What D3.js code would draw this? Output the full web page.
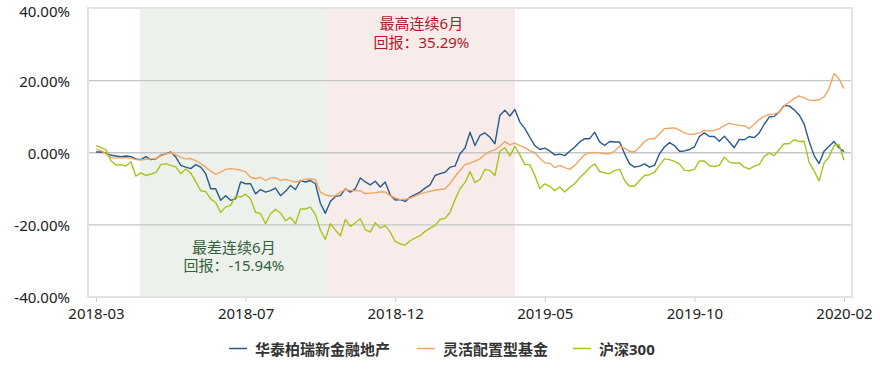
<!DOCTYPE html>
<html>
<head>
<meta charset="utf-8">
<script src="https://cdn.jsdelivr.net/npm/d3@7"></script>
<style>
  html, body { margin: 0; padding: 0; background: #ffffff; }
  svg { display: block; font-family: "Noto Sans", "Noto Sans CJK SC", sans-serif; }
</style>
</head>
<body>
<div id="chart"></div>
<script>
// ---------------- data ----------------
const tickLabels = ["2018-03", "2018-07", "2018-12", "2019-05", "2019-10", "2020-02"];
const tickPositions = [0, 30, 60, 90, 120, 150];
const yTicks = [-40, -20, 0, 20, 40];
const seriesNames = ["华泰柏瑞新金融地产", "灵活配置型基金", "沪深300"];

// cumulative return (%) per sampled trading day
const fundReturns = [
  0.2, 0.2, -0.1, -0.7, -0.9, -1.1, -0.9, -1.1, -1.7, -1.9, -1.1, -1.9, -1.7, -0.7, -0.3, 0.2,
  -1.2, -3.5, -4.0, -4.4, -3.3, -4.0, -5.8, -10.0, -10.0, -13.2, -11.9, -13.2, -12.8, -8.1, -8.6,
  -8.6, -11.4, -10.2, -10.9, -10.5, -9.8, -11.9, -10.7, -9.1, -10.2, -7.7, -8.1, -7.7, -8.6, -14.0,
  -16.8, -13.5, -12.1, -11.9, -10.0, -10.9, -10.0, -7.0, -8.1, -8.9, -7.9, -9.5, -8.1, -11.7, -13.1,
  -13.0, -13.5, -12.3, -11.6, -10.9, -9.8, -8.9, -6.3, -5.8, -5.4, -4.0, -3.7, -0.3, 1.3, 5.7,
  2.0, 4.8, 5.5, 4.3, 2.5, 10.4, 11.8, 10.2, 12.0, 8.5, 6.7, 4.3, 2.0, 0.9, 1.3,
  0.5, -0.6, -0.4, -0.8, 0.4, 1.6, 3.0, 3.9, 3.9, 5.7, 3.0, 2.0, 3.1, 3.0, 3.0,
  -0.3, -3.1, -4.0, -3.7, -3.1, -4.0, -3.5, -0.3, 1.6, 2.8, 2.0, 0.4, 0.5, 0.9, 1.6,
  4.5, 5.5, 4.5, 4.5, 3.2, 4.6, 3.0, 1.4, 3.7, 3.6, 4.5, 4.2, 5.5, 7.9, 9.9,
  10.1, 11.3, 13.1, 13.0, 11.9, 10.5, 8.0, 3.2, -0.8, -3.0, 0.4, 1.8, 3.1, 1.4, 0.3
];
const mixedFundReturns = [
  1.0, 0.6, -0.3, -1.4, -1.5, -1.4, -1.4, -1.5, -1.9, -2.0, -1.8, -1.7, -1.6, -0.9, -0.3, 0.0,
  -0.6, -1.2, -1.7, -1.6, -2.2, -3.0, -4.0, -5.1, -6.0, -5.4, -4.6, -4.4, -4.6, -4.8, -5.3,
  -6.8, -7.2, -6.8, -7.7, -7.0, -6.9, -7.7, -7.4, -7.8, -8.1, -7.8, -7.3, -7.2, -7.5, -10.9,
  -11.7, -12.0, -11.9, -10.9, -10.2, -10.5, -10.5, -10.6, -11.3, -11.2, -11.1, -10.9, -10.9, -11.9, -12.5,
  -13.0, -12.9, -12.6, -12.0, -11.4, -11.0, -10.7, -10.4, -10.2, -10.0, -8.5, -6.6, -4.9, -3.3, -2.9,
  -2.3, -1.7, -0.5, 0.4, 0.8, 1.8, 3.1, 2.2, 2.7, 2.0, 1.4, 0.6, 0.0, -1.5, -2.8,
  -2.9, -4.1, -3.5, -4.1, -4.6, -3.5, -2.0, -0.5, 0.0, 0.1, -0.1, -0.3, -0.3, 0.4, 1.8,
  1.3, 0.4, 0.2, 1.6, 3.1, 3.9, 3.9, 5.3, 6.7, 6.8, 6.9, 6.3, 5.5, 5.1, 5.2,
  5.5, 6.2, 6.0, 6.2, 6.7, 7.5, 8.2, 7.8, 7.6, 7.5, 6.7, 7.9, 9.2, 10.1, 10.6,
  10.7, 11.3, 13.0, 14.0, 15.0, 15.8, 15.2, 14.6, 14.5, 14.7, 15.5, 17.8, 22.0, 20.5, 17.8
];
const csi300Returns = [
  2.0, 1.5, 0.8, -2.2, -3.4, -3.3, -3.7, -2.5, -6.5, -5.6, -6.3, -5.9, -5.5, -3.3, -3.0, -3.5,
  -3.9, -5.8, -4.5, -5.6, -8.0, -10.5, -10.8, -12.8, -13.8, -16.6, -15.0, -14.6, -12.0, -12.3, -11.5,
  -12.8, -16.5, -16.9, -19.7, -16.9, -15.7, -16.7, -18.8, -17.9, -19.7, -15.6, -15.6, -15.1, -17.1, -21.5,
  -24.0, -19.7, -21.4, -23.0, -18.5, -20.4, -19.4, -18.3, -21.3, -22.0, -19.4, -20.9, -20.2, -22.0, -24.6,
  -25.3, -25.6, -24.4, -23.6, -23.0, -21.8, -20.9, -20.2, -18.5, -18.2, -16.5, -13.0, -10.0, -8.3, -5.2,
  -8.3, -7.4, -4.6, -4.9, -6.3, 0.4, 1.4, -0.9, 1.8, -0.6, -3.3, -3.3, -6.3, -10.0, -8.6,
  -9.3, -10.5, -9.5, -10.9, -9.6, -8.6, -6.9, -5.6, -4.1, -3.1, -5.2, -5.6, -5.8, -4.9, -4.6,
  -7.7, -9.3, -9.3, -7.7, -6.3, -6.1, -5.4, -3.5, -1.7, -1.9, -2.4, -3.1, -4.9, -5.0, -4.6,
  -2.3, -2.3, -3.6, -3.8, -3.5, -1.2, -2.6, -2.9, -2.8, -4.0, -4.5, -3.7, -3.3, -1.0, -0.1,
  -0.8, 0.9, 2.5, 2.5, 3.6, 3.1, 3.2, -2.6, -5.0, -7.8, -2.8, -1.2, 2.0, 2.3, -2.1
];

// worst / best rolling 6-month windows (in sample-index units)
const worstWindow = [8.8, 46.5];
const bestWindow = [46.5, 84.0];
const worstLabel = ["最差连续6月", "回报：-15.94%"];
const bestLabel = ["最高连续6月", "回报：35.29%"];

// ---------------- drawing ----------------
const W = 880, H = 369;
const box = { left: 88, right: 852, top: 8, bottom: 297 };
const colors = ["#285a8d", "#f2a562", "#a9c21f"];

const svg = d3.select("#chart").append("svg").attr("width", W).attr("height", H);

const x = d3.scaleLinear().domain([0, fundReturns.length - 1]).range([96, 844]);
const y = d3.scaleLinear().domain([-40, 40]).range([box.bottom, box.top + 0.5]);

// bands
svg.append("rect")
  .attr("x", x(worstWindow[0])).attr("y", box.top)
  .attr("width", x(worstWindow[1]) - x(worstWindow[0])).attr("height", box.bottom - box.top)
  .attr("fill", "#edf1ec");
svg.append("rect")
  .attr("x", x(bestWindow[0])).attr("y", box.top)
  .attr("width", x(bestWindow[1]) - x(bestWindow[0])).attr("height", box.bottom - box.top)
  .attr("fill", "#f8ecea");

// gridlines (inner ones)
svg.append("g").selectAll("line")
  .data(yTicks.filter(d => d !== -40 && d !== 40))
  .join("line")
  .attr("x1", box.left).attr("x2", box.right)
  .attr("y1", d => y(d)).attr("y2", d => y(d))
  .attr("stroke", "#c6c6c6").attr("stroke-width", 1.4);

// frame
svg.append("rect")
  .attr("x", box.left).attr("y", box.top)
  .attr("width", box.right - box.left).attr("height", box.bottom - box.top)
  .attr("fill", "none").attr("stroke", "#e2e2e2").attr("stroke-width", 2);

// y axis
const yAxis = svg.append("g")
  .attr("transform", `translate(${box.left - 18},0)`)
  .call(d3.axisLeft(y).tickValues(yTicks).tickSize(0).tickPadding(0)
    .tickFormat(d => d.toFixed(2) + "%"));
yAxis.select(".domain").remove();
yAxis.selectAll("text")
  .attr("font-size", 15).attr("fill", "#222")
  .attr("font-family", "'Noto Sans', sans-serif")
  .attr("dy", d => d === 40 ? "0.5em" : "0.36em");

// x axis
const xAxis = svg.append("g")
  .attr("transform", `translate(0,${box.bottom})`)
  .call(d3.axisBottom(x).tickValues(tickPositions).tickSize(5).tickPadding(6)
    .tickFormat((d, i) => tickLabels[i]));
xAxis.select(".domain").remove();
xAxis.selectAll("line").attr("stroke", "#c9d3e0");
xAxis.selectAll("text")
  .attr("font-size", 15).attr("fill", "#222")
  .attr("font-family", "'Noto Sans', sans-serif");

// lines
const seriesData = [fundReturns, mixedFundReturns, csi300Returns];
const line = d3.line().x((d, i) => x(i)).y(d => y(d));
seriesData.forEach((s, k) => {
  svg.append("path")
    .datum(s)
    .attr("d", line)
    .attr("fill", "none")
    .attr("stroke", colors[k])
    .attr("stroke-width", 1.4)
    .attr("stroke-linejoin", "round");
});

// annotations
function annotate(win, lines, color, y0) {
  const cx = x((win[0] + win[1]) / 2);
  lines.forEach((t, i) => {
    svg.append("text")
      .attr("x", cx).attr("y", y0 + i * 18.5)
      .attr("text-anchor", "middle").attr("dominant-baseline", "central")
      .attr("font-size", 15).attr("fill", color)
      .text(t);
  });
}
annotate(bestWindow, bestLabel, "#b5172a", 23.3);
annotate(worstWindow, worstLabel, "#34613a", 246.7);

// legend
const legendItems = [
  { x: 229, name: seriesNames[0], color: colors[0] },
  { x: 417, name: seriesNames[1], color: colors[1] },
  { x: 573, name: seriesNames[2], color: colors[2] }
];
const lg = svg.append("g");
legendItems.forEach(it => {
  lg.append("line")
    .attr("x1", it.x).attr("x2", it.x + 18)
    .attr("y1", 348.5).attr("y2", 348.5)
    .attr("stroke", it.color).attr("stroke-width", 1.5);
  lg.append("text")
    .attr("x", it.x + 26).attr("y", 348.5)
    .attr("dominant-baseline", "central")
    .attr("font-size", 15).attr("font-weight", "bold").attr("fill", "#333")
    .text(it.name);
});
</script>
</body>
</html>
